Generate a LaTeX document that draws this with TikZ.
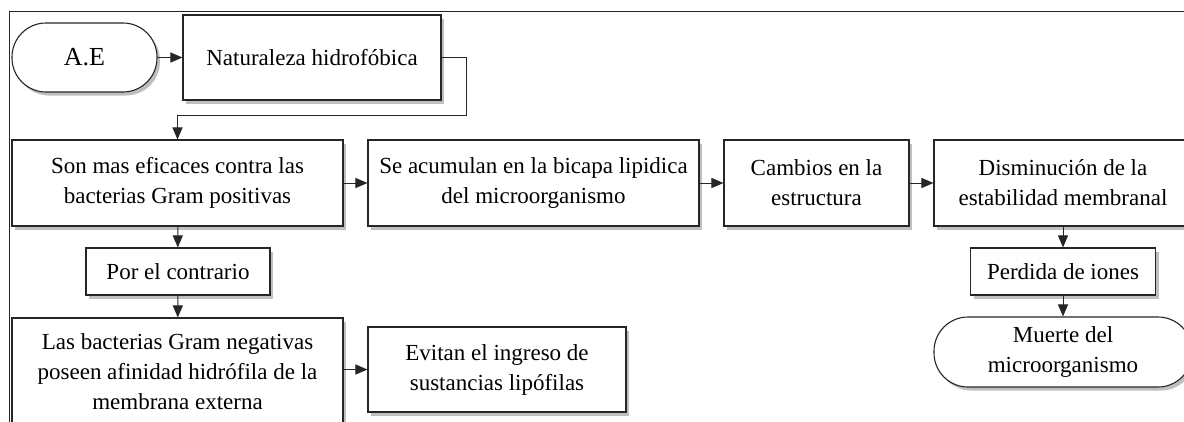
\documentclass[tikz,border=0pt]{standalone}
\usepackage{fontspec}
\setmainfont{Liberation Serif}
\usetikzlibrary{arrows.meta,shadows}
\begin{document}
\begin{tikzpicture}[x=1pt,y=-1pt,
  box/.style={draw=black!85, line width=1.1pt, fill=white, align=center, inner sep=0pt,
    font=\fontsize{23}{30}\selectfont,
    drop shadow={shadow xshift=3pt, shadow yshift=-3.5pt, opacity=0.45, fill=black!55}},
  term/.style={box, rounded corners=34pt},
  arr/.style={draw=black!85, line width=1pt, -{Triangle[length=12pt,width=10pt]}}
]
\useasboundingbox (0,0) rectangle (1184,421);
\clip (0,0) rectangle (1184,421);
\fill[white] (0,0) rectangle (1184,421);
\draw[black!85, line width=1pt] (9,11) rectangle (1210,450);

\node[term, minimum width=145pt, minimum height=69pt, font=\fontsize{26}{30}\selectfont] (ae) at (84.5,57.5) {A.E};
\node[box, minimum width=258pt, minimum height=85pt] (nat) at (312,57.5) {Naturaleza hidrofóbica};
\node[box, minimum width=331pt, minimum height=86pt] (son) at (177.5,183) {Son mas eficaces contra las\\bacterias Gram positivas};
\node[box, minimum width=331pt, minimum height=86pt] (acu) at (533.5,183) {Se acumulan en la bicapa lipidica\\del microorganismo};
\node[box, minimum width=185pt, minimum height=86pt] (cam) at (816.5,183) {Cambios en la\\estructura};
\node[box, minimum width=258pt, minimum height=86pt] (dis) at (1063,183) {Disminución de la\\estabilidad membranal};
\node[box, minimum width=184pt, minimum height=47pt] (por) at (178,271.5) {Por el contrario};
\node[box, minimum width=331pt, minimum height=108pt] (las) at (177.5,372) {Las bacterias Gram negativas\\poseen afinidad hidrófila de la\\membrana externa};
\node[box, minimum width=258pt, minimum height=85pt] (evi) at (497,369.5) {Evitan el ingreso de\\sustancias lipófilas};
\node[box, minimum width=185pt, minimum height=47pt] (per) at (1063,271.5) {Perdida de iones};
\node[term, minimum width=258pt, minimum height=70pt] (mue) at (1063,352) {Muerte del\\microorganismo};

\coordinate (c1) at (466,115);
\draw[arr] (ae) -- (nat);
\draw[arr] (nat.east) -| (c1) -| (son.north);
\draw[arr] (son) -- (acu);
\draw[arr] (acu) -- (cam);
\draw[arr] (cam) -- (dis);
\draw[arr] (son) -- (por);
\draw[arr] (por) -- (las);
\draw[arr] (las.east |- evi) -- (evi);
\draw[arr] (dis) -- (per);
\draw[arr] (per) -- (mue);
\end{tikzpicture}
\end{document}
